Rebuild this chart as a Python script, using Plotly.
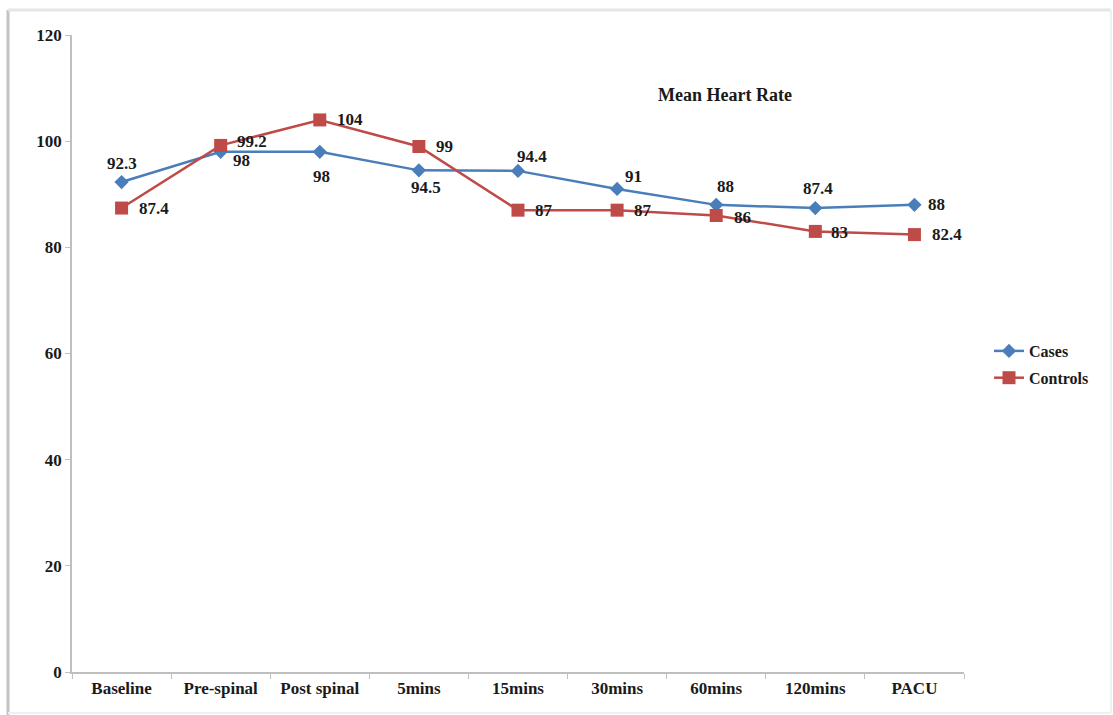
import plotly.graph_objects as go

# Time points and mean heart rate values
time_points = ["Baseline", "Pre-spinal", "Post spinal", "5mins", "15mins",
               "30mins", "60mins", "120mins", "PACU"]
cases_hr = [92.3, 98, 98, 94.5, 94.4, 91, 88, 87.4, 88]
controls_hr = [87.4, 99.2, 104, 99, 87, 87, 86, 83, 82.4]
y_ticks = [0, 20, 40, 60, 80, 100, 120]

# Label offsets (pixels) for each point's value label
cases_label_dx = [0, 21, 2, 7, 14, 16, 9, 3, 22]
cases_label_dy = [-19, 9, 25, 17, -14, -12, -18, -20, 0]
controls_label_dx = [15, 14, 15, 15, 15, 15, 16, 14, 16]
controls_label_dy = [0, -4, 0, 0, 0, 0, 2, 1, 0]

BLUE = "#4a7ebb"
RED = "#be4b48"
FONT = "Liberation Serif"
INK = "#1a1a1a"

# Plot-area pixel bounds
L, R, T, B = 72, 964, 35, 672


def px_x(p):
    return (p - L) / (R - L)


def px_y(p):
    return (B - p) / (B - T)


fig = go.Figure()
fig.add_trace(go.Scatter(
    x=time_points, y=cases_hr, name="<b>Cases</b>", mode="lines+markers",
    legendgroup="cases",
    line=dict(color=BLUE, width=2.5),
    marker=dict(symbol="diamond", size=11, color=BLUE),
))
fig.add_trace(go.Scatter(
    x=time_points, y=controls_hr, name="<b>Controls</b>", mode="lines+markers",
    legendgroup="controls",
    line=dict(color=RED, width=2.5),
    marker=dict(symbol="square", size=13, color=RED),
))

annotations = []
for x, y, dx, dy in zip(time_points, cases_hr, cases_label_dx, cases_label_dy):
    annotations.append(dict(
        x=x, y=y, text=f"<b>{y:g}</b>", showarrow=False,
        xshift=dx, yshift=-dy, xanchor="center", yanchor="middle",
        font=dict(family=FONT, size=17, color=INK),
    ))
for x, y, dx, dy in zip(time_points, controls_hr, controls_label_dx, controls_label_dy):
    annotations.append(dict(
        x=x, y=y, text=f"<b>{y:g}</b>", showarrow=False,
        xshift=dx, yshift=-dy, xanchor="left", yanchor="middle",
        font=dict(family=FONT, size=17, color=INK),
    ))
annotations.append(dict(
    xref="paper", yref="paper", x=px_x(725), y=px_y(95),
    text="<b>Mean Heart Rate</b>", showarrow=False,
    xanchor="center", yanchor="middle",
    font=dict(family=FONT, size=18, color=INK),
))

# Soft frame around the chart
shapes = [
    dict(type="line", xref="paper", yref="paper", x0=px_x(8), x1=px_x(8),
         y0=px_y(10), y1=px_y(715), line=dict(color="#c4c4c4", width=3)),
    dict(type="line", xref="paper", yref="paper", x0=px_x(8), x1=px_x(1111),
         y0=px_y(10), y1=px_y(10), line=dict(color="#e6e6e6", width=3)),
    dict(type="line", xref="paper", yref="paper", x0=px_x(1111), x1=px_x(1111),
         y0=px_y(10), y1=px_y(713), line=dict(color="#f0f0f0", width=2)),
    dict(type="line", xref="paper", yref="paper", x0=px_x(8), x1=px_x(1111),
         y0=px_y(713), y1=px_y(713), line=dict(color="#f0f0f0", width=2)),
]

fig.update_layout(
    width=1113, height=715,
    margin=dict(l=L, r=1113 - R, t=T, b=715 - B),
    paper_bgcolor="white", plot_bgcolor="white",
    font=dict(family=FONT, size=16, color=INK),
    showlegend=True,
    legend=dict(
        x=px_x(989), y=px_y(334), xanchor="left", yanchor="top",
        font=dict(family=FONT, size=16, color=INK),
        bgcolor="rgba(0,0,0,0)", traceorder="grouped", tracegroupgap=3,
        itemwidth=30,
    ),
    annotations=annotations,
    shapes=shapes,
)
fig.update_xaxes(
    type="category", range=[-0.5, 8.5],
    showline=True, linecolor="#bfbfbf", linewidth=1.5,
    ticks="outside", tickson="boundaries", ticklen=5, tickcolor="#bfbfbf",
    showgrid=False, zeroline=False,
    tickvals=time_points, ticktext=[f"<b>{t}</b>" for t in time_points],
    tickfont=dict(family=FONT, size=17, color=INK),
)
fig.update_yaxes(
    range=[0, 120], tickvals=y_ticks, ticktext=[f"<b>{v}</b>" for v in y_ticks],
    showline=True, linecolor="#bfbfbf", linewidth=1.5,
    ticks="outside", ticklen=5, tickcolor="#bfbfbf",
    showgrid=False, zeroline=False,
    tickfont=dict(family=FONT, size=17, color=INK),
)

fig.write_html("out.html")
